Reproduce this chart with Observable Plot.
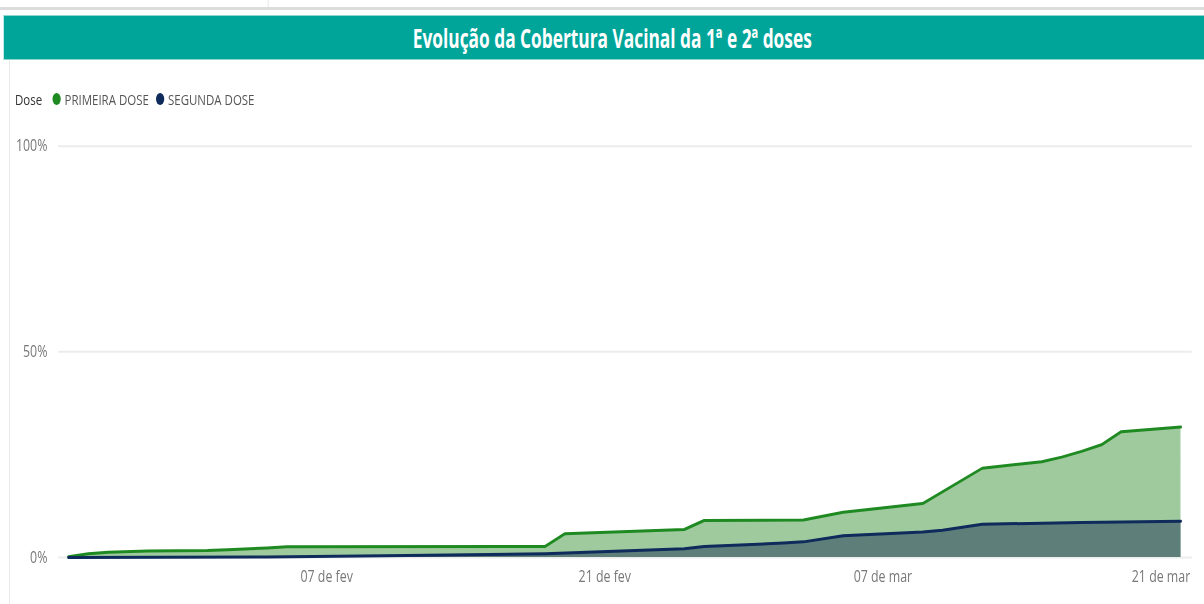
<!DOCTYPE html>
<html><head><meta charset="utf-8">
<script src="https://cdn.jsdelivr.net/npm/d3@7"></script>
<script src="https://cdn.jsdelivr.net/npm/@observablehq/plot@0.6"></script>
<style>
html,body{margin:0;padding:0;background:#fff;overflow:hidden;width:1204px;height:604px;}
#page{position:absolute;left:0;top:0;width:1606px;height:604px;transform:scaleX(0.75);transform-origin:0 0;font-family:"Open Sans",sans-serif;overflow:hidden;}
#topline{position:absolute;left:0;top:7px;width:1606px;height:3px;background:#dcdcdc;}
#vline{position:absolute;left:357px;top:0;width:1px;height:7px;background:#e0e0e0;}
#title{position:absolute;left:5px;top:15px;width:1622px;height:45px;background:#00A59A;color:#fff;display:flex;align-items:center;justify-content:center;border-top:1px solid #8fd6cf;border-bottom:1px solid #8fd6cf;box-sizing:border-box;}
#title span{display:inline-block;font-weight:700;font-size:27px;white-space:nowrap;transform-origin:center;}
#leftline{position:absolute;left:12px;top:60px;width:1px;height:544px;background:#e3e3e3;}
.lg{position:absolute;top:88px;height:22px;line-height:22px;font-size:15.3px;color:#555;white-space:nowrap;}
.dot{position:absolute;top:93px;width:11px;height:12px;border-radius:50%;}
#chart{position:absolute;left:0;top:120px;}
</style>
</head><body>
<div id="page">
  <div id="topline"></div>
  <div id="vline"></div>
  <div id="title"><span id="ttext">Evolução da Cobertura Vacinal da 1ª e 2ª doses</span></div>
  <div id="leftline"></div>
  <div class="lg" style="left:20px;color:#333">Dose</div>
  <div class="dot" id="d1" style="left:70px"></div>
  <div class="lg" id="l1" style="left:86px"></div>
  <div class="dot" id="d2" style="left:208px"></div>
  <div class="lg" id="l2" style="left:224px"></div>
  <div id="chart"></div>
</div>
<script>
// Series names and colours
const seriesNames = ["PRIMEIRA DOSE", "SEGUNDA DOSE"];
const seriesColors = ["#1F8A22", "#0E2B5C"];
const areaColors = ["#9FCA9E", "#5E7F79"];

// PRIMEIRA DOSE (% coverage)
const primeiraDates = ["2021-01-25","2021-01-26","2021-01-27","2021-01-29","2021-02-01","2021-02-02","2021-02-04","2021-02-05","2021-02-18","2021-02-19","2021-02-25","2021-02-26","2021-03-03","2021-03-05","2021-03-09","2021-03-12","2021-03-15","2021-03-16","2021-03-17","2021-03-18","2021-03-19","2021-03-22"];
const primeiraValues = [0.2, 0.9, 1.3, 1.6, 1.7, 1.9, 2.3, 2.6, 2.7, 5.8, 6.8, 9.0, 9.1, 11.0, 13.1, 21.7, 23.3, 24.4, 25.8, 27.4, 30.6, 31.7];

// SEGUNDA DOSE (% coverage)
const segundaDates = ["2021-01-25","2021-02-04","2021-02-11","2021-02-18","2021-02-25","2021-02-26","2021-03-02","2021-03-03","2021-03-05","2021-03-09","2021-03-10","2021-03-12","2021-03-17","2021-03-22"];
const segundaValues = [0.0, 0.1, 0.5, 0.9, 2.1, 2.7, 3.5, 3.8, 5.3, 6.2, 6.6, 8.1, 8.5, 8.8];

// Axis ticks
const yTicks = [0, 50, 100];
const xTickDates = ["2021-02-07","2021-02-21","2021-03-07","2021-03-21"];
const xTickLabels = ["07 de fev","21 de fev","07 de mar","21 de mar"];

const primeira = primeiraDates.map((d, i) => ({date: new Date(d), value: primeiraValues[i]}));
const segunda = segundaDates.map((d, i) => ({date: new Date(d), value: segundaValues[i]}));
const tickMap = new Map(xTickDates.map((d, i) => [new Date(d).getTime(), xTickLabels[i]]));

// legend
document.getElementById("l1").textContent = seriesNames[0];
document.getElementById("l2").textContent = seriesNames[1];
document.getElementById("d1").style.background = seriesColors[0];
document.getElementById("d2").style.background = seriesColors[1];

// title width
const tt = document.getElementById("ttext");
const tw = tt.getBoundingClientRect().width / 0.75;
tt.style.transform = `scaleX(${532 / tw})`;

const chart = Plot.plot({
  width: 1606,
  height: 480,
  marginLeft: 90.7,
  marginRight: 32,
  marginTop: 25.7,
  marginBottom: 43,
  style: {fontFamily: "Open Sans, sans-serif", fontSize: "16.5px", color: "#777", background: "transparent", overflow: "visible"},
  x: {type: "utc", label: null},
  y: {domain: [0, 100], label: null},
  marks: [
    Plot.ruleY(yTicks, {stroke: "#ececec", strokeWidth: 2, insetLeft: -13.3, insetRight: -15}),
    Plot.areaY(primeira, {x: "date", y: "value", fill: areaColors[0]}),
    Plot.areaY(segunda, {x: "date", y: "value", fill: areaColors[1]}),
    Plot.lineY(primeira, {x: "date", y: "value", stroke: seriesColors[0], strokeWidth: 3}),
    Plot.lineY(segunda, {x: "date", y: "value", stroke: seriesColors[1], strokeWidth: 3}),
    Plot.axisY({ticks: yTicks, tickFormat: d => d + "%", tickSize: 0, tickPadding: 28, fill: "#777", label: null}),
    Plot.axisX({ticks: xTickDates.map(d => new Date(d)), tickFormat: d => tickMap.get(d.getTime()), tickSize: 0, tickPadding: 13, fill: "#777", label: null})
  ]
});
document.getElementById("chart").appendChild(chart);
</script>
</body></html>
